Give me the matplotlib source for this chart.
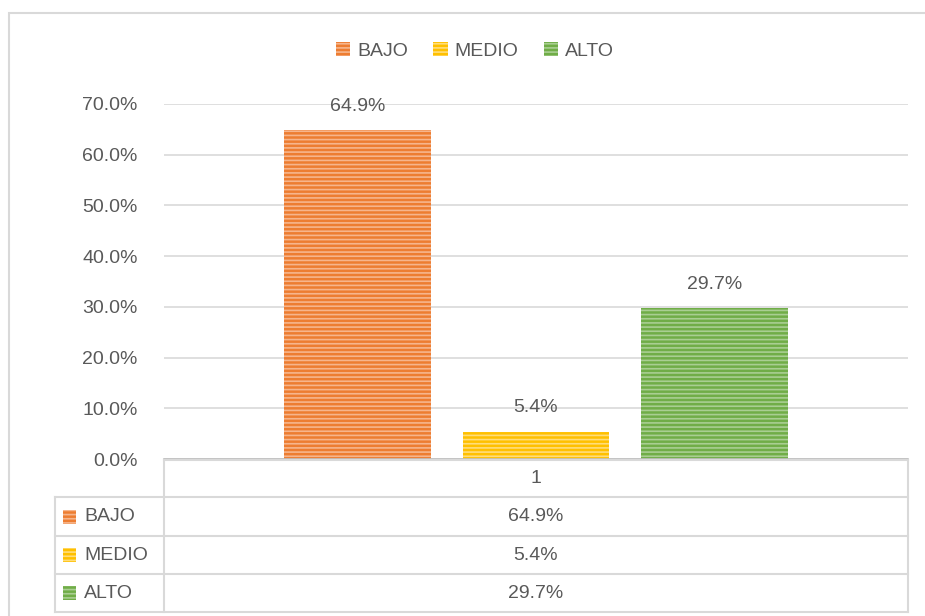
import matplotlib
matplotlib.use("Agg")
import matplotlib.pyplot as plt
from matplotlib.patches import Rectangle
from matplotlib.lines import Line2D

# ---- data ----
categories = ["1"]
series_names = ["BAJO", "MEDIO", "ALTO"]
values = [0.649, 0.054, 0.297]
value_labels = ["64.9%", "5.4%", "29.7%"]
colors = ["#ED7D31", "#FFC000", "#70AD47"]
stripe_colors = ["#F6B58C", "#FFDD7A", "#A9CE92"]
yticks = [0.0, 0.1, 0.2, 0.3, 0.4, 0.5, 0.6, 0.7]

TXT = "#595959"
GRID = "#D9D9D9"
FONT = "Liberation Sans"
FS = 14

W, H = 925, 616
fig = plt.figure(figsize=(W / 100, H / 100), dpi=100)
plt.rcParams["hatch.linewidth"] = 1.2


def fx(x):
    return x / W


def fy(y):
    return 1 - y / H


# outer chart border
fig.add_artist(Rectangle((fx(9), fy(640)), fx(930) - fx(9), fy(13) - fy(640),
                         transform=fig.transFigure, fill=False,
                         edgecolor=GRID, linewidth=1.5))

# axes
ax_left, ax_right, ax_bottom, ax_top = 164, 908, 459, 104
ax = fig.add_axes([fx(ax_left), fy(ax_bottom), fx(ax_right) - fx(ax_left),
                   fy(ax_top) - fy(ax_bottom)])
ax.set_xlim(-0.5, 0.5)
ax.set_ylim(0, 0.7)
ax.set_yticks(yticks)
ax.set_yticklabels([f"{t*100:.1f}%" for t in yticks], fontsize=FS,
                   color=TXT, fontfamily=FONT)
ax.tick_params(axis="y", length=0, pad=19)
ax.set_xticks([])
for s in ["top", "right", "left"]:
    ax.spines[s].set_visible(False)
ax.spines["bottom"].set_color("#BFBFBF")
ax.spines["bottom"].set_linewidth(1.2)
ax.yaxis.grid(True, color=GRID, linewidth=1.2)
ax.set_axisbelow(True)

offsets = [-0.24, 0.0, 0.24]
bw = 0.197
for name, v, lab, c, sc, off in zip(series_names, values, value_labels,
                                    colors, stripe_colors, offsets):
    ax.bar(off, v, width=bw, color=c, edgecolor=sc, linewidth=0,
           hatch="----", label=name)
    ax.annotate(lab, (off, v), xytext=(0, 11), textcoords="offset points",
                ha="center", va="bottom", fontsize=FS, color=TXT,
                fontfamily=FONT)

# legend at top
leg = fig.legend(loc="center", bbox_to_anchor=(fx(475), fy(51)), ncol=3,
                 frameon=False, prop={"family": FONT, "size": FS},
                 handlelength=0.75, handleheight=0.75, handletextpad=0.35,
                 columnspacing=1.3)
for t in leg.get_texts():
    t.set_color(TXT)

# data table below
lw = 1.5
tl, tm, tr = 55, 164, 908
rows_y = [460, 497, 536, 574, 612]


def hline(x0, x1, y):
    fig.add_artist(Line2D([fx(x0), fx(x1)], [fy(y), fy(y)],
                          transform=fig.transFigure, color=GRID, linewidth=lw))


def vline(x, y0, y1):
    fig.add_artist(Line2D([fx(x), fx(x)], [fy(y0), fy(y1)],
                          transform=fig.transFigure, color=GRID, linewidth=lw))


hline(tm, tr, rows_y[0])
for y in rows_y[1:]:
    hline(tl, tr, y)
vline(tm, rows_y[0], rows_y[-1])
vline(tr, rows_y[0], rows_y[-1])
vline(tl, rows_y[1], rows_y[-1])

xc = (tm + tr) / 2
fig.text(fx(xc), fy((rows_y[0] + rows_y[1]) / 2), categories[0],
         ha="center", va="center", fontsize=FS, color=TXT, fontfamily=FONT)
for i, (name, lab, c, sc) in enumerate(zip(series_names, value_labels,
                                           colors, stripe_colors)):
    yc = (rows_y[i + 1] + rows_y[i + 2]) / 2
    fig.add_artist(Rectangle((fx(63), fy(yc + 7)), fx(13), 14 / H,
                             transform=fig.transFigure, facecolor=c,
                             edgecolor=sc, linewidth=0, hatch="----"))
    fig.text(fx(84), fy(yc), name, ha="left", va="center", fontsize=FS,
             color=TXT, fontfamily=FONT)
    fig.text(fx(xc), fy(yc), lab, ha="center", va="center", fontsize=FS,
             color=TXT, fontfamily=FONT)

fig.savefig("out.png", dpi=100, facecolor="white")
